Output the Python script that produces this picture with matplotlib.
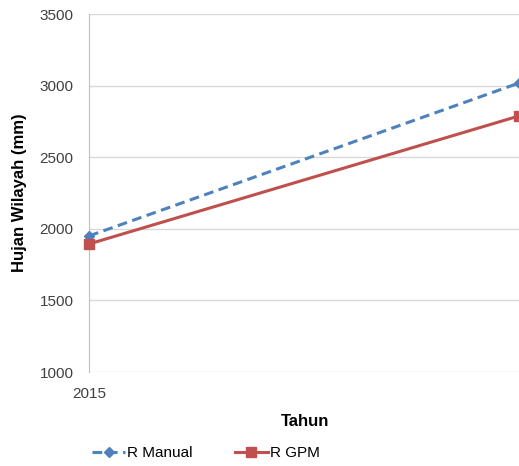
import matplotlib
matplotlib.use("Agg")
import matplotlib.pyplot as plt
from matplotlib.lines import Line2D

plt.rcParams['font.family'] = ['Liberation Sans', 'DejaVu Sans']

years = [2015, 2016]
r_manual = [1950, 3018]
r_gpm = [1894, 2788]
yticks = [1000, 1500, 2000, 2500, 3000, 3500]

blue = '#4F81BD'
red = '#C0504D'

fig = plt.figure(figsize=(5.19, 4.66), dpi=100)
ax = fig.add_axes([89/519, 1-372/466, 1-89/519, (372-14)/466])

ax.plot(years, r_manual, color=blue, linestyle=(0, (3.2, 1.8)), linewidth=2.2,
        marker='D', markersize=5.5, clip_on=False, zorder=3)
ax.plot(years, r_gpm, color=red, linestyle='-', linewidth=2.2,
        marker='s', markersize=7, clip_on=False, zorder=3)

ax.set_xlim(years[0], years[1])
ax.set_ylim(1000, 3500)
ax.set_yticks(yticks)
ax.set_xticks([years[0]])
ax.set_xticklabels([str(years[0])])
ax.grid(axis='y', color='#D9D9D9', linewidth=1)
ax.set_axisbelow(True)
for s in ['top', 'right', 'bottom']:
    ax.spines[s].set_visible(False)
ax.spines['left'].set_color('#BFBFBF')
ax.tick_params(axis='both', length=0, labelsize=11, colors='#404040')
ax.tick_params(axis='y', pad=11)
ax.tick_params(axis='x', pad=11)

ax.set_ylabel('Hujan Wilayah (mm)', fontsize=12, fontweight='bold', labelpad=9)
fig.text(305/519, 1-421/466, 'Tahun', fontsize=12, fontweight='bold', ha='center', va='center')

handles = [
    Line2D([], [], color=blue, linestyle=(0, (3.2, 1.8)), linewidth=2.2, marker='D', markersize=5.5),
    Line2D([], [], color=red, linestyle='-', linewidth=2.2, marker='s', markersize=7),
]
fig.legend(handles, ['R Manual', 'R GPM'], loc='center', bbox_to_anchor=(206/519, 1-453/466),
           ncol=2, frameon=False, fontsize=11, handlelength=2.15, columnspacing=2.75,
           handletextpad=0.15, borderpad=0, borderaxespad=0)

fig.savefig('out.png', dpi=100)
